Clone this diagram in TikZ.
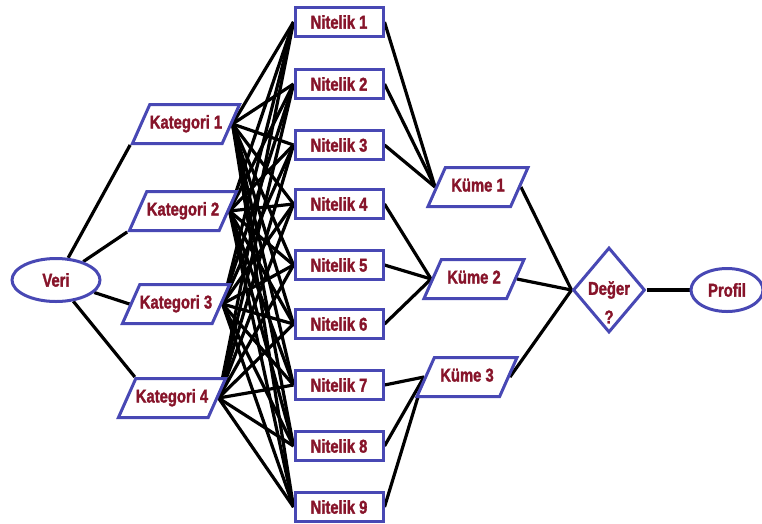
\documentclass[tikz,border=0pt]{standalone}
\usepackage{fontspec}
\newfontfamily\lblfont[FakeStretch=0.8,BoldFeatures={FakeBold=1.6}]{Liberation Sans}
\usetikzlibrary{shapes.geometric,backgrounds}
\definecolor{bordblue}{RGB}{72,72,180}
\definecolor{txtred}{RGB}{135,20,42}
\begin{document}
\begin{tikzpicture}[x=1pt,y=-1pt,
  base/.style={draw=bordblue,line width=3pt,fill=white,text=txtred,
    font=\lblfont\bfseries\fontsize{18.5}{21}\selectfont,inner sep=0pt},
  para/.style={base,trapezium,trapezium left angle=66,trapezium right angle=114,
    trapezium stretches body,text height=13pt,text depth=4pt,inner ysep=11pt,
    minimum width=98pt},
  rectbox/.style={base,rectangle,minimum width=88pt,minimum height=29pt},
  ell/.style={base,ellipse,minimum height=43pt},
  conn/.style={line width=3.2pt,black},
  txt/.style={text=txtred,font=\lblfont\bfseries\fontsize{18.5}{21}\selectfont,inner sep=0pt}]
\useasboundingbox (0,0) rectangle (762,523);

\node[ell,minimum width=88pt] (veri) at (56,280) {Veri};

\node[para] (k1) at (186,124) {Kategori 1};
\node[para] (k2) at (183,211) {Kategori 2};
\node[para] (k3) at (176,304) {Kategori 3};
\node[para] (k4) at (172,398) {Kategori 4};

\foreach \i/\y in {1/22,2/84,3/145,4/204,5/265,6/324,7/385,8/446,9/507}
  \node[rectbox] (n\i) at (339,\y) {Nitelik \i};

\node[para,minimum width=100pt] (m1) at (478,187) {Küme 1};
\node[para,minimum width=100pt] (m2) at (474,279) {Küme 2};
\node[para,minimum width=100pt] (m3) at (467,377) {Küme 3};

\node[base,diamond,minimum width=72pt,minimum height=85pt,aspect=0.85] (deger) at (609,290) {};
\node[txt] (degtxt) at (609,290) {Değer};
\node[txt] (degq) at (609,317) {?};

\node[ell,minimum width=72pt] (profil) at (727,290) {Profil};

\begin{scope}[on background layer]
  \draw[conn] (veri) -- (k1.bottom left corner);
  \draw[conn] (veri) -- (k2.bottom left corner);
  \draw[conn] (veri) -- (k3.west);
  \draw[conn] (veri) -- (k4.top left corner);
  \foreach \k in {1,2,3,4}
    \foreach \n in {1,...,9}
      \draw[conn] (k\k.east) -- (n\n.west);
  \foreach \n in {1,2,3} \draw[conn] (n\n.east) -- (m1.west);
  \foreach \n in {4,5,6} \draw[conn] (n\n.east) -- (m2.west);
  \foreach \n in {7,8,9} \draw[conn] (n\n.east) -- (m3.west);
  \foreach \m in {1,2,3} \draw[conn] (m\m.east) -- (deger.west);
  \draw[conn] (deger.east) -- (profil.west);
\end{scope}
\end{tikzpicture}
\end{document}
